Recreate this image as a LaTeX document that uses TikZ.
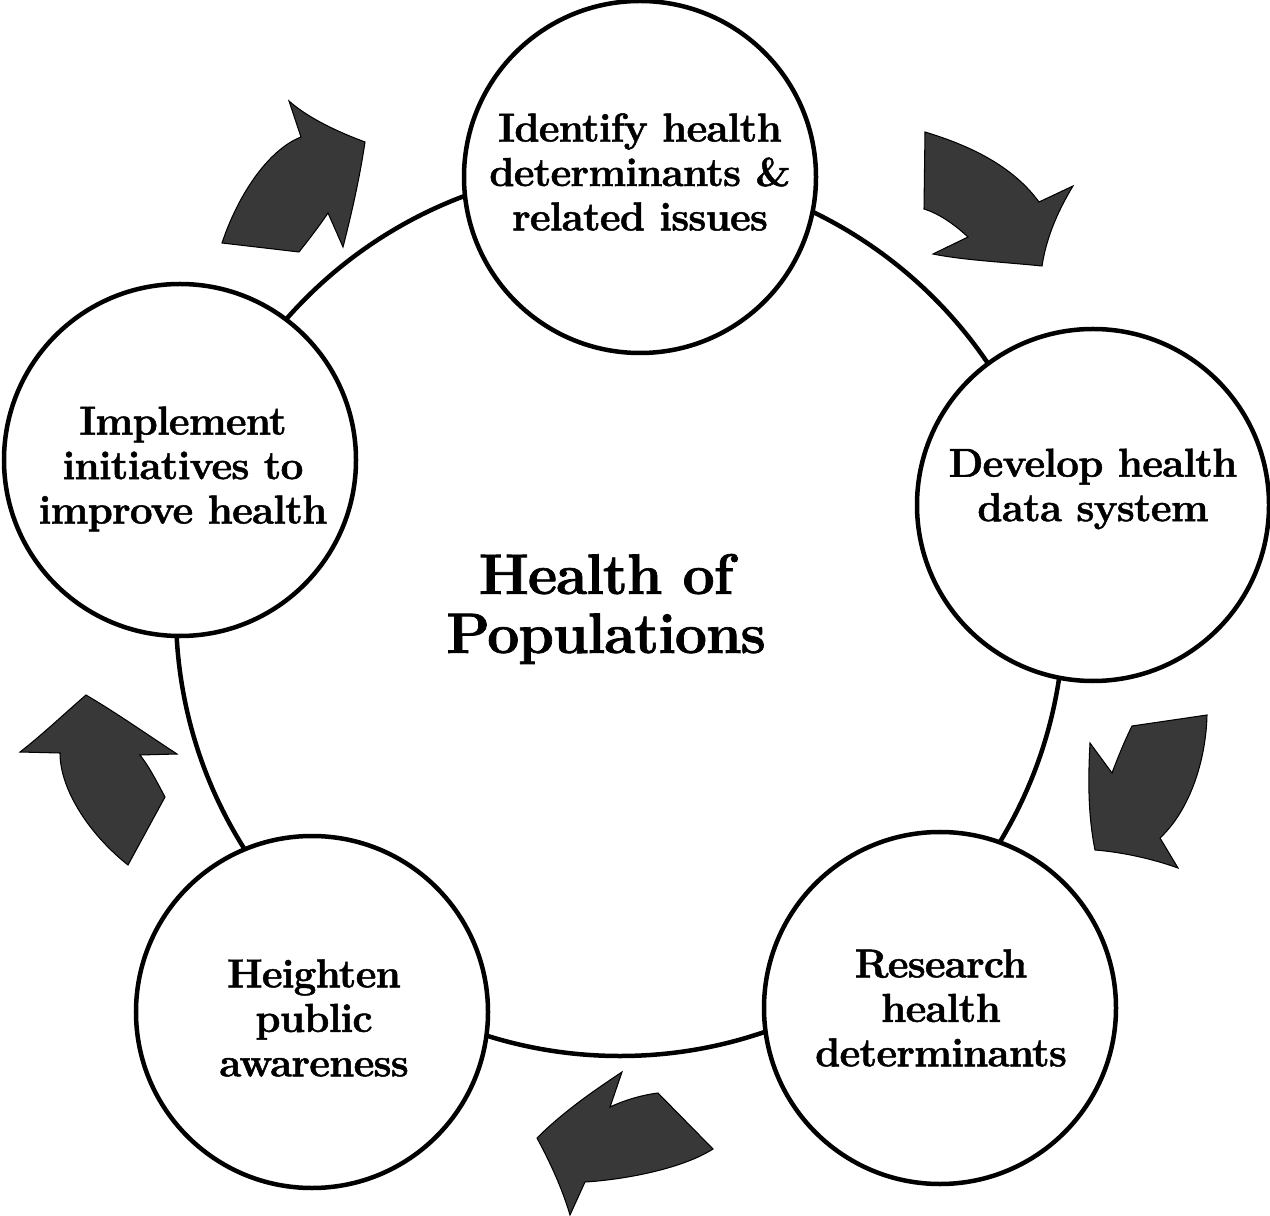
\documentclass[tikz,border=0pt]{standalone}
\usepackage{fontspec}
\setmainfont{Latin Modern Roman}[BoldFeatures={FakeBold=1.2}]
\usetikzlibrary{calc}
\begin{document}
\begin{tikzpicture}[x=0.2mm,y=-0.2mm,
  ring/.style={draw=black, line width=0.9mm, circle, inner sep=0pt, minimum size=177.6mm},
  stage/.style={draw=black, fill=white, line width=0.9mm, circle, inner sep=0pt, minimum size=70.4mm},
  stagetext/.style={align=center, inner sep=0pt,
    font=\addfontfeatures{LetterSpace=-2}\fontsize{23}{25.3}\selectfont\bfseries},
  titletext/.style={align=center, inner sep=0pt,
    font=\addfontfeatures{LetterSpace=-2}\fontsize{32.5}{33.6}\selectfont\bfseries},
  cyclearrow/.style={fill=black!78, draw=black, line width=0.6pt, line join=miter}]

\useasboundingbox (0,0) rectangle (1270,1216);

% the cycle that links the five stages
\node[ring] (cycle) at (620,612) {};

% the five stages
\node[stage] (identify)  at (640,177)  {};
\node[stage] (develop)   at (1093,505) {};
\node[stage] (research)  at (940,1008) {};
\node[stage] (heighten)  at (312,1012) {};
\node[stage] (implement) at (180,460)  {};

\node[stagetext] (identify-txt)  at ($(identify)+(0,-5)$)  {Identify health\\determinants \&\\related issues};
\node[stagetext] (develop-txt)   at ($(develop)+(0,-16)$)  {Develop health\\data system};
\node[stagetext] (research-txt)  at ($(research)+(1,0)$)   {Research\\health\\determinants};
\node[stagetext] (heighten-txt)  at ($(heighten)+(2,6)$)   {Heighten\\public\\awareness};
\node[stagetext] (implement-txt) at ($(implement)+(3,9)$)  {Implement\\initiatives to\\improve health};

% centre title
\node[titletext] (title) at (606,609) {Health of\\Populations};

% clockwise arrows between the stages
% identify -> develop
\draw[cyclearrow] (925,132) .. controls (968,145) and (1012,165) .. (1039,202)
  -- (1073,186) .. controls (1056,214) and (1046,240) .. (1042,266)
  .. controls (1002,262) and (962,260) .. (933,254)
  -- (968,237) .. controls (955,225) and (940,214) .. (924,209) -- cycle;
% develop -> research
\draw[cyclearrow] (1132,726) -- (1207,715)
  .. controls (1206,760) and (1190,810) .. (1160,838)
  -- (1178,868) .. controls (1150,858) and (1120,852) .. (1095,850)
  .. controls (1088,815) and (1088,780) .. (1090,743)
  -- (1112,773) .. controls (1118,757) and (1125,740) .. cycle;
% research -> heighten
\draw[cyclearrow] (658,1093) -- (713,1149)
  .. controls (680,1170) and (620,1180) .. (585,1182)
  -- (570,1215) .. controls (562,1188) and (550,1162) .. (537,1138)
  .. controls (565,1110) and (598,1088) .. (622,1072)
  -- (610,1107) .. controls (625,1100) and (642,1095) .. cycle;
% heighten -> implement
\draw[cyclearrow] (128,865) -- (165,797)
  .. controls (157,782) and (150,768) .. (140,755)
  -- (177,754) .. controls (148,735) and (115,712) .. (86,695)
  .. controls (64,714) and (42,735) .. (20,752)
  -- (60,753) .. controls (60,790) and (90,835) .. cycle;
% implement -> identify
\draw[cyclearrow] (222,243) -- (299,252)
  .. controls (310,238) and (320,225) .. (328,213)
  -- (343,247) .. controls (352,212) and (360,176) .. (365,142)
  .. controls (338,132) and (308,118) .. (289,101)
  -- (301,137) .. controls (268,150) and (238,195) .. cycle;

\end{tikzpicture}
\end{document}
